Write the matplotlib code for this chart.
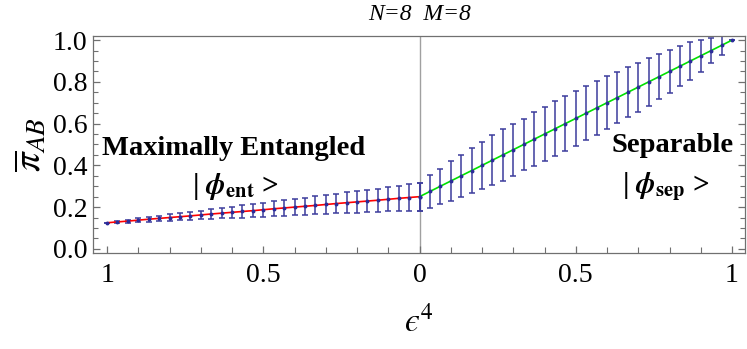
import numpy as np
import matplotlib
matplotlib.use('Agg')
import matplotlib.pyplot as plt
from matplotlib.ticker import MultipleLocator

plt.rcParams['font.family'] = ['Liberation Serif', 'DejaVu Serif']
plt.rcParams['mathtext.fontset'] = 'stix'

# entangled side: x runs from -1 (eps^4 = 1) to 0
x_ent = np.linspace(-1, 0, 31)
pi_ent = [0.125, 0.129, 0.133, 0.1375, 0.142, 0.146, 0.150, 0.154, 0.158, 0.1625,
          0.167, 0.171, 0.175, 0.179, 0.183, 0.1875, 0.192, 0.196, 0.200, 0.204,
          0.208, 0.2125, 0.217, 0.221, 0.225, 0.229, 0.233, 0.2375, 0.242, 0.246, 0.250]
err_ent = [0.0, 0.005, 0.007, 0.009, 0.011, 0.013, 0.015, 0.017, 0.019, 0.021,
           0.023, 0.025, 0.027, 0.029, 0.031, 0.033, 0.035, 0.037, 0.039, 0.041,
           0.043, 0.045, 0.047, 0.049, 0.051, 0.053, 0.055, 0.057, 0.060, 0.063, 0.067]

# separable side: x runs from 0 to 1
x_sep = np.linspace(0, 1, 31)
pi_sep = [0.250, 0.275, 0.300, 0.325, 0.350, 0.375, 0.400, 0.425, 0.450, 0.475,
          0.500, 0.525, 0.550, 0.575, 0.600, 0.625, 0.650, 0.675, 0.700, 0.725,
          0.750, 0.775, 0.800, 0.825, 0.850, 0.875, 0.900, 0.925, 0.950, 0.975, 1.000]
err_sep = [0.067, 0.078, 0.084, 0.097, 0.101, 0.108, 0.114, 0.120, 0.123, 0.125,
           0.124, 0.129, 0.128, 0.132, 0.131, 0.130, 0.130, 0.128, 0.127, 0.122,
           0.119, 0.117, 0.114, 0.109, 0.105, 0.097, 0.090, 0.076, 0.060, 0.044, 0.0]

xtick_pos = [-1, -0.5, 0, 0.5, 1]
xtick_labels = ['1', '0.5', '0', '0.5', '1']

bar_col = '#3c3c9c'
dot_col = '#2b2b99'

fig = plt.figure(figsize=(7.47, 3.49), dpi=100)
ax = fig.add_axes([0.1245, 0.275, 0.873, 0.622])

ax.axvline(0, color='#a0a0a0', lw=1.0, zorder=1)

ax.errorbar(x_ent, pi_ent, yerr=err_ent, fmt='none', ecolor=bar_col,
            elinewidth=1.1, capsize=2.5, capthick=1.1, zorder=2)
ax.errorbar(x_sep, pi_sep, yerr=err_sep, fmt='none', ecolor=bar_col,
            elinewidth=1.1, capsize=2.5, capthick=1.1, zorder=2)
ax.plot(x_ent, pi_ent, color='#ff0000', lw=1.2, zorder=3)
ax.plot(x_sep, pi_sep, color='#00e000', lw=1.2, zorder=3)
ax.plot(x_ent, pi_ent, 'o', color=dot_col, ms=1.8, zorder=4)
ax.plot(x_sep, pi_sep, 'o', color=dot_col, ms=1.8, zorder=4)

ax.set_xlim(-1.045, 1.042)
ax.set_ylim(-0.02, 1.02)
ax.set_xticks(xtick_pos)
ax.set_xticklabels(xtick_labels)
ax.xaxis.set_minor_locator(MultipleLocator(0.1))
ax.set_yticks([0.0, 0.2, 0.4, 0.6, 0.8, 1.0])
ax.set_yticklabels(['0.0', '0.2', '0.4', '0.6', '0.8', '1.0'])
ax.yaxis.set_minor_locator(MultipleLocator(0.05))

for s in ax.spines.values():
    s.set_color('#707070')
    s.set_linewidth(0.9)
ax.tick_params(which='both', direction='in', colors='#707070', labelcolor='black',
               labelsize=20, right=True, top=False)
ax.tick_params(which='major', length=5, width=0.9)
ax.tick_params(which='minor', length=3.5, width=0.8)
ax.tick_params(axis='x', which='minor', length=4.5)
ax.tick_params(axis='x', pad=7)
ax.tick_params(axis='y', pad=4)

ax.set_xlabel('$\u03f5^{\\mathit{4}}$', fontsize=24, labelpad=13)
ax.set_ylabel(r'$\overline{\pi}_{AB}$', fontsize=28, labelpad=2)

fig.text(420 / 747, 1 - 14 / 349, 'N=8  M=8', fontsize=17, style='italic',
         ha='center', va='center')

ax.text(-0.595, 0.483, 'Maximally Entangled', fontsize=20.5, fontweight='bold',
        ha='center', va='center')
ax.text(-0.589, 0.30, r'| $\boldsymbol{\phi}_{\mathbf{ent}}$ >',
        fontsize=21, fontweight='bold', ha='center', va='center')
ax.text(1.005, 0.493, 'Separable', fontsize=20.5, fontweight='bold',
        ha='right', va='center')
ax.text(0.787, 0.297, r'| $\boldsymbol{\phi}_{\mathbf{sep}}$ >',
        fontsize=21, fontweight='bold', ha='center', va='center')

fig.savefig('out.png', dpi=100)
